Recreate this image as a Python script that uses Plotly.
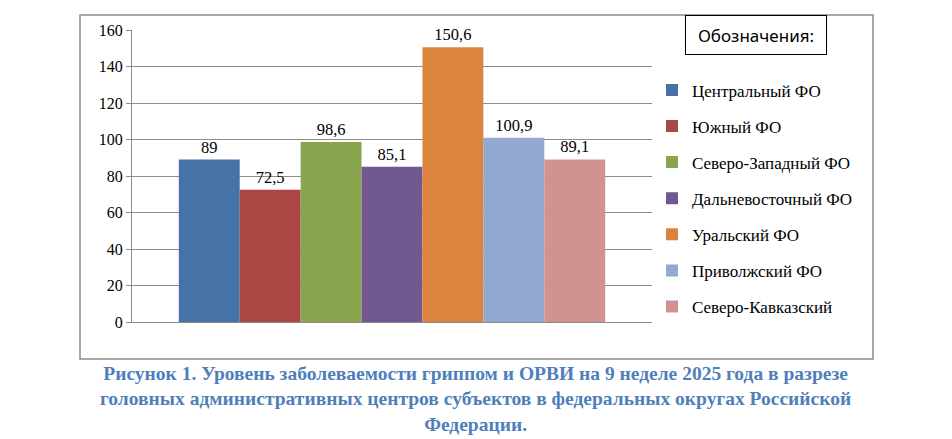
import plotly.graph_objects as go

districts = ["Центральный ФО", "Южный ФО", "Северо-Западный ФО", "Дальневосточный ФО",
             "Уральский ФО", "Приволжский ФО", "Северо-Кавказский"]
values = [89, 72.5, 98.6, 85.1, 150.6, 100.9, 89.1]
colors = ["#4572A7", "#AA4643", "#89A54E", "#71588F", "#DB843D", "#93A9CF", "#D19392"]

serif = "Liberation Serif"

fig = go.Figure()
for i, (name, v, c) in enumerate(zip(districts, values, colors)):
    fig.add_trace(go.Bar(
        x=[""], y=[v], name=name, marker=dict(color=c, line=dict(width=0)),
        text=[str(v).replace(".", ",")], textposition="outside", cliponaxis=False,
        textfont=dict(family=serif, size=16.5, color="black"),
        legendgroup=str(i),
    ))

fig.update_layout(
    width=952, height=439,
    margin=dict(l=124, r=308, t=22, b=125),
    plot_bgcolor="white", paper_bgcolor="white",
    barmode="group", bargap=0.18, bargroupgap=0,
    showlegend=True,
    legend=dict(x=1.0, y=0.855, xanchor="left", yanchor="top",
                font=dict(family=serif, size=17, color="black"),
                tracegroupgap=11, itemwidth=30, bgcolor="rgba(0,0,0,0)"),
    font=dict(family=serif, size=16, color="black"),
)
fig.update_yaxes(range=[0, 160], dtick=20, showgrid=True, gridcolor="#8c8c8c", gridwidth=1,
                 showline=True, linecolor="#8c8c8c", ticks="outside", ticklen=5,
                 tickcolor="#8c8c8c", tickfont=dict(family=serif, size=16, color="black"),
                 zeroline=False)
fig.update_xaxes(showline=True, linecolor="#8c8c8c", showticklabels=False, ticks="")

# outer chart border
fig.add_shape(type="rect", xref="paper", yref="paper", x0=-0.1, x1=1.425, y0=-0.127, y1=1.051,
              line=dict(color="#8c8c8c", width=1.5), fillcolor="rgba(0,0,0,0)", layer="below")

# legend heading box
fig.add_annotation(xref="paper", yref="paper", x=1.2, y=0.983, xanchor="center", yanchor="middle",
                   text="Обозначения:", showarrow=False,
                   font=dict(family="Noto Sans", size=17, color="black"),
                   bordercolor="black", borderwidth=1, width=138, height=36)

caption = ("Рисунок 1. Уровень заболеваемости гриппом и ОРВИ на 9 неделе 2025 года в разрезе<br>"
           "головных административных центров субъектов в федеральных округах Российской<br>"
           "Федерации.")
fig.add_annotation(xref="paper", yref="paper", x=0.6615, y=-0.134, yanchor="top", xanchor="center",
                   text="<b>" + caption + "</b>", showarrow=False, align="center",
                   font=dict(family=serif, size=19.5, color="#4F7FBA"))

fig.write_html("out.html")
